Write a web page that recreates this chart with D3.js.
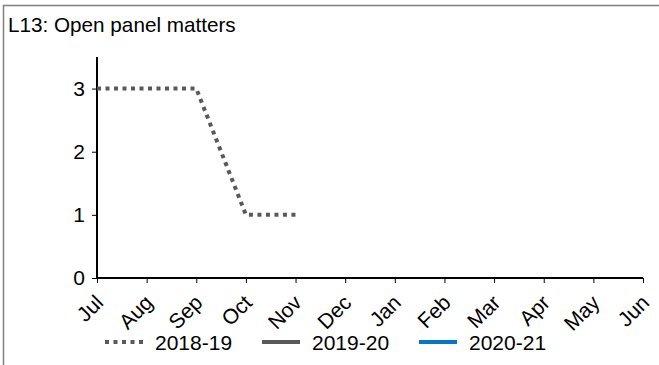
<!DOCTYPE html>
<html>
<head>
<meta charset="utf-8">
<script src="https://cdn.jsdelivr.net/npm/d3@7"></script>
<style>
  body { margin: 0; background: #fff; }
  text { font-family: "Liberation Sans", Arial, sans-serif; fill: #000; }
</style>
</head>
<body>
<script>
// chart data
var months = ["Jul", "Aug", "Sep", "Oct", "Nov", "Dec", "Jan", "Feb", "Mar", "Apr", "May", "Jun"];
var values1819 = [3, 3, 3, 1, 1];
var values1920 = [];
var values2021 = [];
var yTicks = [0, 1, 2, 3];
var seriesNames = ["2018-19", "2019-20", "2020-21"];

var W = 659, H = 365;
var margin = {top: 57, right: 16, bottom: 87, left: 97};
var width = W - margin.left - margin.right,
    height = H - margin.top - margin.bottom;

var svg = d3.select("body").append("svg")
    .attr("width", W)
    .attr("height", H);

// frame around the chart (only top and left show)
svg.append("path")
    .attr("d", "M3.5," + H + "V5.5H" + W)
    .attr("fill", "none")
    .attr("stroke", "#808080")
    .attr("stroke-width", 1.5);

svg.append("text")
    .attr("x", 8)
    .attr("y", 32)
    .style("font-size", "20.7px")
    .text("L13: Open panel matters");

var g = svg.append("g")
    .attr("transform", "translate(" + margin.left + "," + margin.top + ")");

var x = d3.scalePoint().domain(months).range([0, width]);
var y = d3.scaleLinear().domain([0, 3.5]).range([height, 0]);

// y axis
var yAxis = g.append("g")
    .call(d3.axisLeft(y).tickValues(yTicks).tickSize(5).tickPadding(7).tickFormat(d3.format("d")));
yAxis.select(".domain").attr("d", "M0,0V" + height).attr("stroke", "#000").attr("stroke-width", 2);
yAxis.selectAll(".tick line").attr("stroke", "#000");
yAxis.selectAll(".tick text").style("font-size", "21px").attr("font-family", null);

// x axis
var xAxis = g.append("g")
    .attr("transform", "translate(0," + height + ")")
    .call(d3.axisBottom(x).tickSize(5));
xAxis.select(".domain").attr("d", "M0,0H" + width).attr("stroke", "#000").attr("stroke-width", 2);
xAxis.selectAll(".tick line").attr("stroke", "#000");
xAxis.selectAll(".tick text")
    .style("font-size", "21px")
    .attr("font-family", null)
    .attr("text-anchor", "end")
    .attr("dy", null)
    .attr("y", null)
    .attr("transform", "translate(7,26) rotate(-45)");

var line = d3.line()
    .x(function(d, i) { return x(months[i]); })
    .y(function(d) { return y(d); });

var series = [
    {name: seriesNames[0], values: values1819, color: "#595959", dash: "4,4.5"},
    {name: seriesNames[1], values: values1920, color: "#595959", dash: null},
    {name: seriesNames[2], values: values2021, color: "#0077c8", dash: null}
];

series.forEach(function(s) {
    if (!s.values.length) return;
    g.append("path")
        .datum(s.values)
        .attr("d", line)
        .attr("fill", "none")
        .attr("stroke", s.color)
        .attr("stroke-width", 4)
        .attr("stroke-dasharray", s.dash);
});

// legend
var legendX = [105, 262, 419];
var legend = svg.append("g").attr("transform", "translate(0,342)");
series.forEach(function(s, i) {
    legend.append("line")
        .attr("x1", legendX[i])
        .attr("x2", legendX[i] + 38)
        .attr("y1", 0)
        .attr("y2", 0)
        .attr("stroke", s.color)
        .attr("stroke-width", 4)
        .attr("stroke-dasharray", s.dash);
    legend.append("text")
        .attr("x", legendX[i] + 50)
        .attr("y", 7.5)
        .style("font-size", "21px")
        .text(s.name);
});
</script>
</body>
</html>
